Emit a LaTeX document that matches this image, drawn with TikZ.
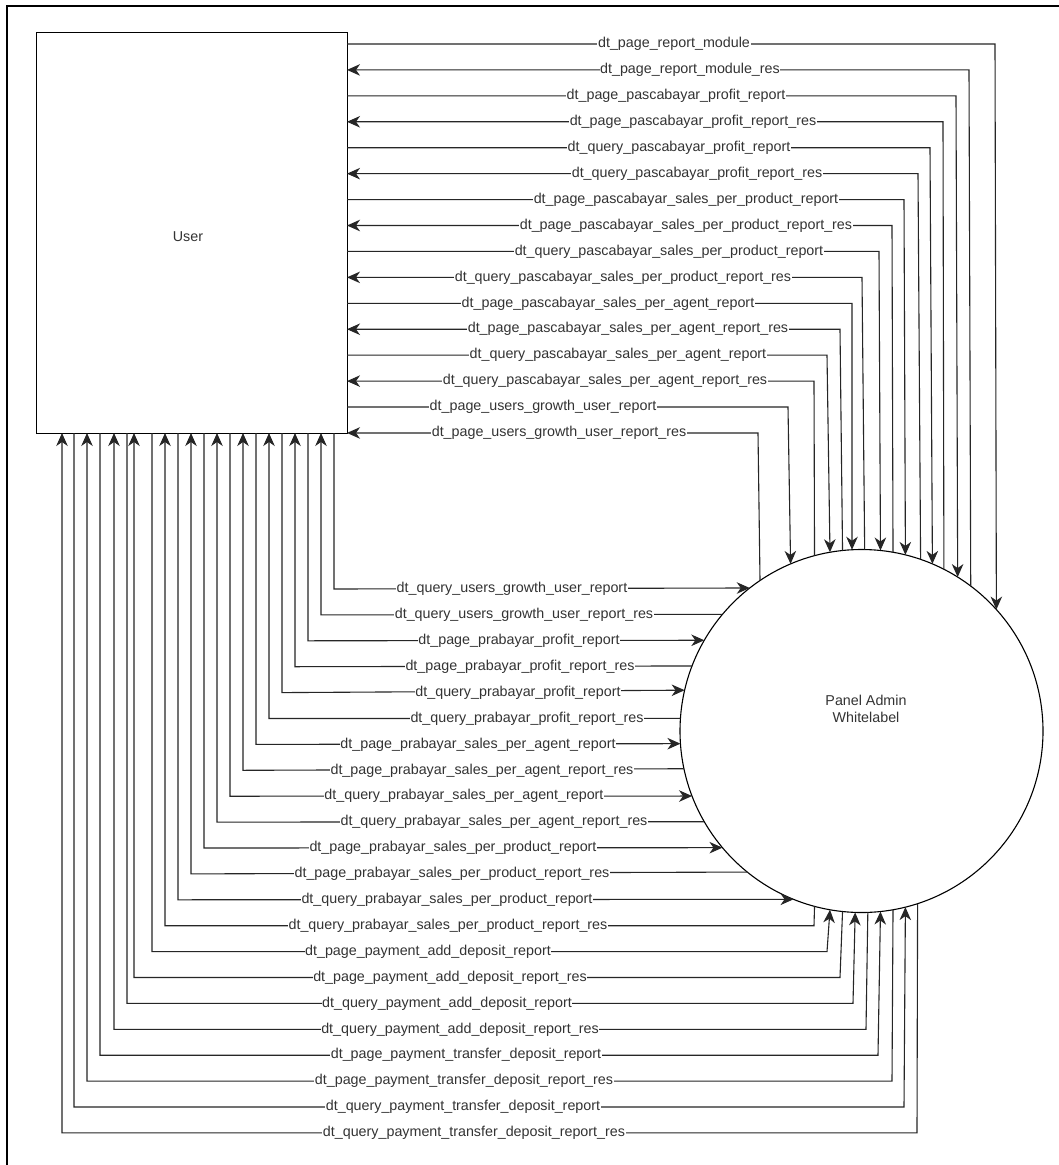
\documentclass[tikz,border=0pt]{standalone}
\usepackage{fontspec}
\setmainfont{Liberation Sans}
\usetikzlibrary{arrows.meta,calc}
\newcommand{\lblfont}{\fontsize{14.3}{17}\selectfont}
\tikzset{
  entity/.style  = {draw, line width=0.9pt, minimum width=311pt, minimum height=401pt,
                    inner sep=0pt, outer sep=0pt},
  process/.style = {draw, circle, line width=1.1pt, minimum size=363pt, inner sep=0pt,
                    outer sep=0pt},
  flow/.style    = {line width=1.1pt, black!85},
  toadmin/.style = {flow, -{Stealth[length=13pt,width=11.5pt,inset=4pt]}},
  touser/.style  = {flow, {Stealth[length=13pt,width=11.5pt,inset=4pt]}-},
  lbl/.style     = {fill=white, inner sep=0.6pt, font=\lblfont, text=black!80},
}
\begin{document}
\begin{tikzpicture}[x=1pt,y=-1pt]
  \fill[white] (0,0) rectangle (1059,1165);
  \useasboundingbox (0,0) rectangle (1059,1165);
  \draw[line width=1.8pt] (7,1170) -- (7,6) -- (1065,6);

  \node[entity]  (user)  at (191.5,232.5) {};
  \node[lbl, fill=none] (userlbl) at (188,237) {User};
  \node[process] (panel) at (861.5,731) {};
  \node[lbl, fill=none, align=center] (panellbl) at (866,709) {Panel Admin\\Whitelabel};

  % flows above: user east side -> top of the circle
  \foreach \i/\xv/\lx/\sty/\txt [evaluate=\i as \y using {44+25.93*(\i-1)},
      evaluate=\xv as \ang using {acos((\xv-861.5)/181.5)}] in {
    1/995/674/toadmin/dt\_page\_report\_module,
    2/969/690/touser/dt\_page\_report\_module\_res,
    3/956/676/toadmin/dt\_page\_pascabayar\_profit\_report,
    4/943/693/touser/dt\_page\_pascabayar\_profit\_report\_res,
    5/930/679/toadmin/dt\_query\_pascabayar\_profit\_report,
    6/918/697/touser/dt\_query\_pascabayar\_profit\_report\_res,
    7/904/686/toadmin/dt\_page\_pascabayar\_sales\_per\_product\_report,
    8/892/686/touser/dt\_page\_pascabayar\_sales\_per\_product\_report\_res,
    9/879/669/toadmin/dt\_query\_pascabayar\_sales\_per\_product\_report,
    10/862/623/touser/dt\_query\_pascabayar\_sales\_per\_product\_report\_res,
    11/852/608/toadmin/dt\_page\_pascabayar\_sales\_per\_agent\_report,
    12/840/628/touser/dt\_page\_pascabayar\_sales\_per\_agent\_report\_res,
    13/827/618/toadmin/dt\_query\_pascabayar\_sales\_per\_agent\_report,
    14/814/605/touser/dt\_query\_pascabayar\_sales\_per\_agent\_report\_res,
    15/788/543/toadmin/dt\_page\_users\_growth\_user\_report,
    16/758/559/touser/dt\_page\_users\_growth\_user\_report\_res}{
    \draw[\sty] (user.east |- 0,\y) -- (\xv,\y) -- (panel.\ang);
    \node[lbl] (t\i) at (\lx,\y) {\txt};
  }

  % flows below: user south side -> left of the circle
  \foreach \k/\xv/\lx/\sty/\txt [evaluate=\k as \y using {589+25.9*(\k-1)},
      evaluate=\y as \ang using {180+asin((\y-731)/181.5)}] in {
    1/334/512/toadmin/dt\_query\_users\_growth\_user\_report,
    2/321/524/touser/dt\_query\_users\_growth\_user\_report\_res,
    3/308/519/toadmin/dt\_page\_prabayar\_profit\_report,
    4/295/520/touser/dt\_page\_prabayar\_profit\_report\_res,
    5/282/518/toadmin/dt\_query\_prabayar\_profit\_report,
    6/269/527/touser/dt\_query\_prabayar\_profit\_report\_res,
    7/256/478/toadmin/dt\_page\_prabayar\_sales\_per\_agent\_report,
    8/243/482/touser/dt\_page\_prabayar\_sales\_per\_agent\_report\_res,
    9/230/464/toadmin/dt\_query\_prabayar\_sales\_per\_agent\_report,
    10/217/494/touser/dt\_query\_prabayar\_sales\_per\_agent\_report\_res,
    11/204/453/toadmin/dt\_page\_prabayar\_sales\_per\_product\_report,
    12/191/452/touser/dt\_page\_prabayar\_sales\_per\_product\_report\_res,
    13/178/447/toadmin/dt\_query\_prabayar\_sales\_per\_product\_report}{
    \draw[\sty] (user.south -| \xv,0) -- (\xv,\y) -- (panel.\ang);
    \node[lbl] (b\k) at (\lx,\y) {\txt};
  }

  % flows below: user south side -> bottom of the circle
  \foreach \k/\xv/\xr/\lx/\sty/\txt [evaluate=\k as \y using {589+25.9*(\k-1)},
      evaluate=\xr as \ang using {-acos((\xr-861.5)/181.5)}] in {
    14/165/814/448/touser/dt\_query\_prabayar\_sales\_per\_product\_report\_res,
    15/152/827/428/toadmin/dt\_page\_payment\_add\_deposit\_report,
    16/134/840/450/touser/dt\_page\_payment\_add\_deposit\_report\_res,
    17/127/853/447/toadmin/dt\_query\_payment\_add\_deposit\_report,
    18/114/866/460/touser/dt\_query\_payment\_add\_deposit\_report\_res,
    19/100/878/466/toadmin/dt\_page\_payment\_transfer\_deposit\_report,
    20/87/892/464/touser/dt\_page\_payment\_transfer\_deposit\_report\_res,
    21/74/904/463/toadmin/dt\_query\_payment\_transfer\_deposit\_report,
    22/62/917/474/touser/dt\_query\_payment\_transfer\_deposit\_report\_res}{
    \draw[\sty] (user.south -| \xv,0) -- (\xv,\y) -- (\xr,\y) -- (panel.\ang);
    \node[lbl] (b\k) at (\lx,\y) {\txt};
  }
\end{tikzpicture}
\end{document}
